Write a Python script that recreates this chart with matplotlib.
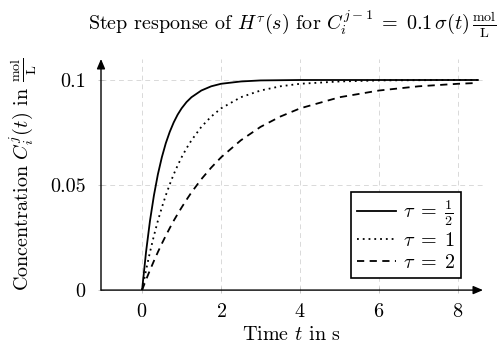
import matplotlib
matplotlib.use("Agg")
import matplotlib.pyplot as plt

# Шрифты в стиле LaTeX (Computer Modern)
plt.rcParams['font.family'] = 'serif'
plt.rcParams['font.serif'] = ['cmr10']
plt.rcParams['mathtext.fontset'] = 'cm'
plt.rcParams['axes.formatter.use_mathtext'] = True
plt.rcParams['font.size'] = 14.5

# ------------------------------------------------------------
# Данные
# ------------------------------------------------------------
t = [0, 0.1, 0.2, 0.3, 0.4, 0.5, 0.6, 0.7, 0.8, 0.9, 1.0, 1.125, 1.25,
     1.5, 1.75, 2.0, 2.5, 3.0, 3.5, 4.0, 5.0, 6.0, 7.0, 8.0, 8.5]

c_tau_half = [0, 0.0181, 0.0330, 0.0451, 0.0551, 0.0632, 0.0699, 0.0753,
              0.0798, 0.0835, 0.0865, 0.0895, 0.0918, 0.0950, 0.0970,
              0.0982, 0.0993, 0.0998, 0.0999, 0.1000, 0.1000, 0.1000,
              0.1000, 0.1000, 0.1000]
c_tau_1 = [0, 0.0095, 0.0181, 0.0259, 0.0330, 0.0393, 0.0451, 0.0503,
           0.0551, 0.0593, 0.0632, 0.0675, 0.0713, 0.0777, 0.0826,
           0.0865, 0.0918, 0.0950, 0.0970, 0.0982, 0.0993, 0.0998,
           0.0999, 0.1000, 0.1000]
c_tau_2 = [0, 0.0049, 0.0095, 0.0139, 0.0181, 0.0221, 0.0259, 0.0295,
           0.0330, 0.0362, 0.0393, 0.0430, 0.0465, 0.0528, 0.0583,
           0.0632, 0.0713, 0.0777, 0.0826, 0.0865, 0.0918, 0.0950,
           0.0970, 0.0982, 0.0986]

labels = [r'$\tau\;=\;\frac{1}{2}$', r'$\tau\;=\;1$', r'$\tau\;=\;2$']
x_ticks = [0, 2, 4, 6, 8]
y_ticks = [0, 0.05, 0.1]
y_ticklabels = ['0', '0.05', '0.1']

# ------------------------------------------------------------
# График
# ------------------------------------------------------------
fig = plt.figure(figsize=(5.0, 3.47), dpi=100)
ax = fig.add_axes([0.202, 0.164, 0.764, 0.666])

ax.plot(t, c_tau_half, color='black', lw=1.3, linestyle='-', label=labels[0])
ax.plot(t, c_tau_1, color='black', lw=1.3, linestyle=(0, (1, 2.2)), label=labels[1])
ax.plot(t, c_tau_2, color='black', lw=1.3, linestyle=(0, (4, 3)), label=labels[2])

ax.set_xlim(-1.04, 8.63)
ax.set_ylim(0, 0.11)
ax.set_xticks(x_ticks)
ax.set_yticks(y_ticks)
ax.set_yticklabels(y_ticklabels)
ax.tick_params(direction='inout', length=4, width=0.6, color='0.75',
               labelsize=14.5)
ax.tick_params(axis='x', pad=7)
ax.tick_params(axis='y', pad=9)

ax.grid(True, color='0.85', linestyle=(0, (5, 4)), linewidth=0.7)

# оси со стрелками
for side in ['top', 'right', 'left', 'bottom']:
    ax.spines[side].set_visible(False)
arrow = dict(arrowstyle='-|>,head_length=0.4,head_width=0.17',
             color='black', lw=1.0, shrinkA=0, shrinkB=0)
ax.annotate('', xy=(1.0, 0), xytext=(0, 0), xycoords='axes fraction',
            arrowprops=arrow)
ax.annotate('', xy=(0, 1.0), xytext=(0, 0), xycoords='axes fraction',
            arrowprops=arrow)

ax.set_title(r'Step response of $H^{\tau}(s)$ for $C_i^{j-1}\;=\;0.1\,\sigma(t)\,\frac{\mathrm{mol}}{\mathrm{L}}$',
             fontsize=14.5, pad=21)
ax.set_xlabel(r'Time $t$ in s', fontsize=14.5, labelpad=4)
ax.set_ylabel(r'Concentration $C_i^j(t)$ in $\frac{\mathrm{mol}}{\mathrm{L}}$',
              fontsize=14.5, labelpad=8)

leg = ax.legend(loc='lower right', bbox_to_anchor=(0.922, 0.199),
                bbox_transform=fig.transFigure, borderaxespad=0,
                fancybox=False, edgecolor='black', framealpha=1,
                handlelength=1.9, handletextpad=0.35, labelspacing=0.2,
                borderpad=0.3, fontsize=14.5)
leg.get_frame().set_linewidth(1.2)

fig.savefig('out.png', dpi=100)
